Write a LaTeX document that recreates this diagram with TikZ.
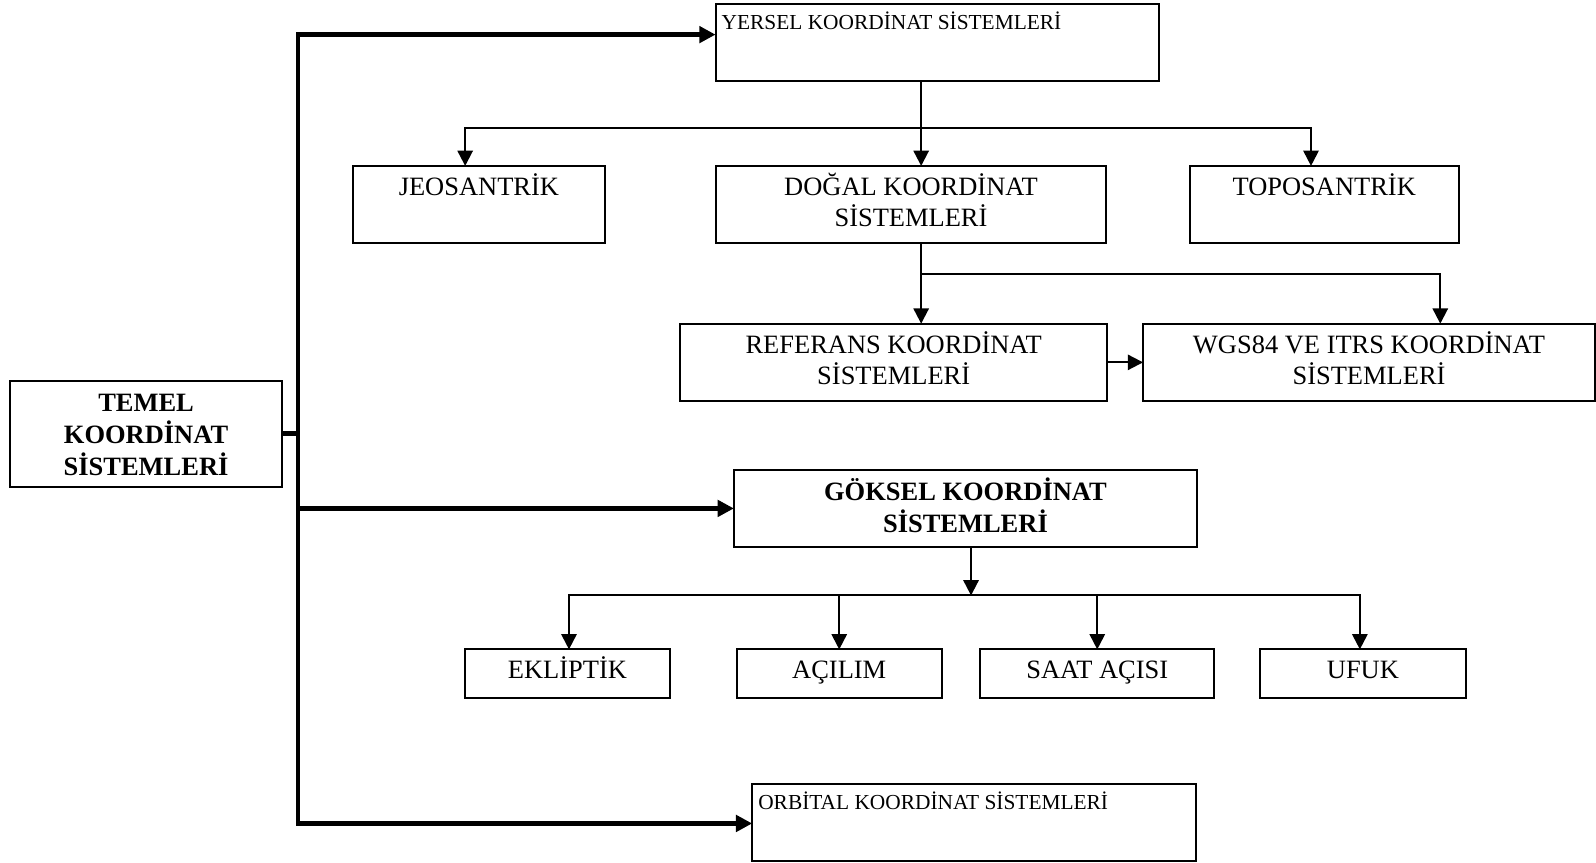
\documentclass[tikz,border=0pt]{standalone}
\usepackage{fontspec}
\setmainfont{Liberation Serif}
\usetikzlibrary{arrows.meta}
\newcommand{\twolines}[2]{\begin{tabular}[t]{@{}c@{}}#1\\#2\end{tabular}}
\newcommand{\threelines}[3]{\begin{tabular}[t]{@{}c@{}}#1\\#2\\#3\end{tabular}}
\begin{document}
\begin{tikzpicture}[x=1pt,y=-1pt,
  box/.style={draw, line width=2pt, anchor=north west, outer sep=0pt, inner ysep=0pt, inner xsep=0pt,
              font=\fontsize{26}{30.5}\selectfont},
  boldbox/.style={box, font=\fontsize{26}{30.5}\selectfont\bfseries},
  smallbox/.style={box, font=\fontsize{21}{24}\selectfont, inner xsep=6pt},
  link/.style={line width=2pt},
  arr/.style={line width=2pt, -{Triangle[length=15pt,width=15pt]}},
  bigarr/.style={line width=4.2pt, -{Triangle[length=16pt,width=16pt]}},
  trunkline/.style={line width=4.2pt}]
\useasboundingbox (0,0) rectangle (1568,847);

% boxes
\node[boldbox, minimum width=267pt, text height=30pt, text depth=74pt] (temel) at (10,374)
  {\threelines{TEMEL}{KOORDİNAT}{SİSTEMLERİ}};
\node[smallbox, text height=25.5pt, text depth=50.5pt] (yersel) at (703,3.5)
  {\makebox[424pt][l]{YERSEL KOORDİNAT SİSTEMLERİ}};
\node[box, minimum width=247pt, text height=29.5pt, text depth=46.5pt] (jeo) at (347,163) {JEOSANTRİK};
\node[box, minimum width=384pt, text height=29pt, text depth=47pt] (dogal) at (703,163)
  {\twolines{DOĞAL KOORDİNAT}{SİSTEMLERİ}};
\node[box, minimum width=264pt, text height=29.5pt, text depth=46.5pt] (topo) at (1169,163) {TOPOSANTRİK};
\node[box, minimum width=420pt, text height=29pt, text depth=47pt] (ref) at (668,318)
  {\twolines{REFERANS KOORDİNAT}{SİSTEMLERİ}};
\node[box, minimum width=444pt, text height=29pt, text depth=47pt] (wgs) at (1123,318)
  {\twolines{WGS84 VE ITRS KOORDİNAT}{SİSTEMLERİ}};
\node[boldbox, minimum width=455pt, text height=30pt, text depth=46pt] (goksel) at (721,461.5)
  {\twolines{GÖKSEL KOORDİNAT}{SİSTEMLERİ}};
\node[box, minimum width=201pt, text height=28.5pt, text depth=19.5pt] (ekl) at (457,638) {EKLİPTİK};
\node[box, minimum width=201pt, text height=28.5pt, text depth=19.5pt] (acilim) at (724,638) {AÇILIM};
\node[box, minimum width=230pt, text height=28.5pt, text depth=19.5pt] (saat) at (963,638) {SAAT AÇISI};
\node[box, minimum width=202pt, text height=28.5pt, text depth=19.5pt] (ufuk) at (1238,638) {UFUK};
\node[smallbox, text height=24.5pt, text depth=51pt] (orbital) at (739,770.5)
  {\makebox[424pt][l]{ORBİTAL KOORDİNAT SİSTEMLERİ}};

% trunk
\coordinate (tt) at (293,34);
\coordinate (tb) at (293,809);
\draw[trunkline, line cap=rect] (tt) -- (tb);
\draw[trunkline] (temel.east) -- (temel.east -| tt);
\draw[bigarr] (tt) -- (tt -| yersel.west);
\draw[bigarr] (goksel.west -| tt) -- (goksel.west);
\draw[bigarr] (tb) -- (tb -| orbital.west);

% yersel children
\coordinate (ym) at (905,126);
\coordinate (yl) at (457,126);
\coordinate (yr) at (1288,126);
\draw[arr] (yersel.south -| ym) -- (ym |- dogal.north);
\draw[arr] (ym) -| (yl |- jeo.north);
\draw[arr] (ym) -| (yr |- topo.north);

% dogal children
\coordinate (dm) at (905,269);
\coordinate (dr) at (1415,269);
\draw[arr] (dogal.south -| dm) -- (dm |- ref.north);
\draw[arr] (dm) -| (dr |- wgs.north);
\draw[arr] (ref.east) -- (wgs.west);

% goksel children
\coordinate (gm) at (954,585);
\coordinate (gl) at (559,585);
\coordinate (gr) at (1336,585);
\draw[arr] (goksel.south -| gm) -- (gm);
\draw[arr] (gm) -| (gl |- ekl.north);
\draw[arr] (gm) -| (gr |- ufuk.north);
\draw[arr] (acilim.north |- gm) -- (acilim.north);
\draw[arr] (saat.north |- gm) -- (saat.north);
\end{tikzpicture}
\end{document}
